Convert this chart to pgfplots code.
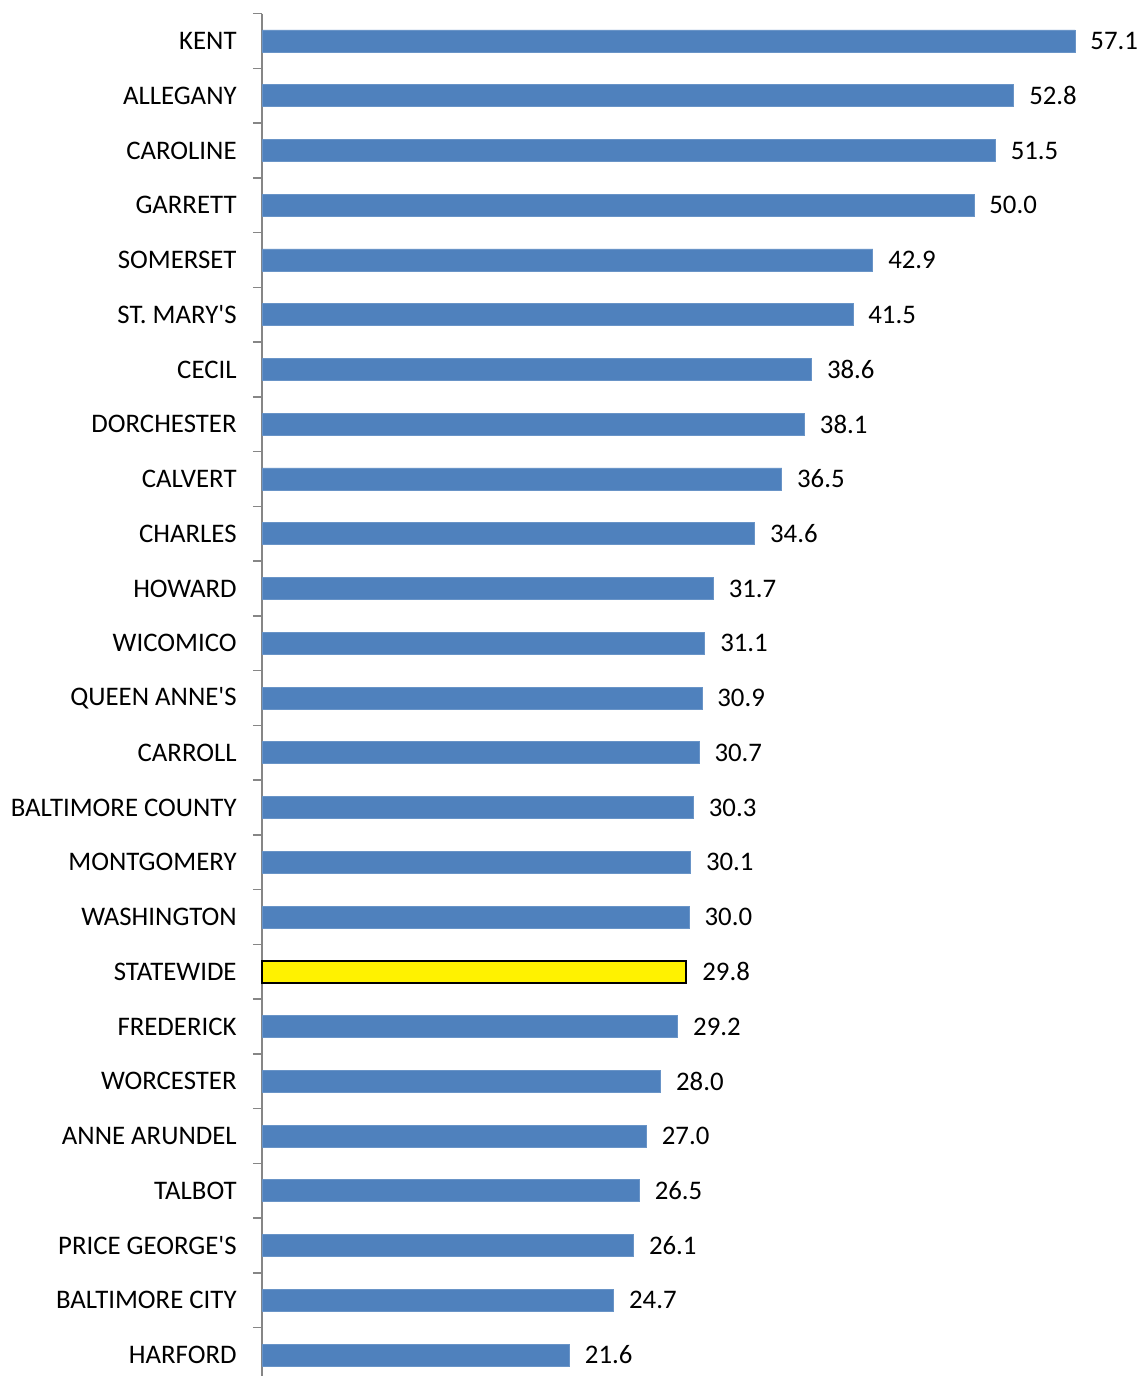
\documentclass[border=0pt]{standalone}
\usepackage{pgfplots}
\pgfplotsset{compat=1.18}
\usepackage{fontspec}
\setmainfont{Carlito}[Ligatures=TeXOff]
\definecolor{barblue}{HTML}{4F81BD}
\definecolor{axgray}{HTML}{868686}
\begin{document}
\begin{tikzpicture}
\useasboundingbox (-131pt,3.2pt) rectangle (439pt,691.2pt);
\begin{axis}[
  at={(0,0)}, anchor=south west,
  scale only axis,
  width=427.2pt, height=684.4pt,
  xmin=0, xmax=60,
  ymin=-0.5, ymax=24.5,
  y dir=reverse,
  axis x line=none,
  axis y line*=left,
  y axis line style={draw=axgray, line width=0.8pt},
  xbar, bar width=11pt, bar shift=0pt,
  ytick={0,...,24},
  yticklabels={KENT,ALLEGANY,CAROLINE,GARRETT,SOMERSET,{ST. MARY'S},CECIL,DORCHESTER,CALVERT,CHARLES,HOWARD,WICOMICO,{QUEEN ANNE'S},CARROLL,BALTIMORE COUNTY,MONTGOMERY,WASHINGTON,STATEWIDE,FREDERICK,WORCESTER,ANNE ARUNDEL,TALBOT,{PRICE GEORGE'S},BALTIMORE CITY,HARFORD},
  minor ytick={-0.5,0.5,...,24.5},
  major tick length=0pt,
  minor tick length=4.5pt,
  tick align=outside,
  minor tick style={draw=axgray, line width=0.8pt},
  yticklabel style={font=\fontsize{13.4}{15}\selectfont, inner sep=0pt, xshift=-12.5pt, anchor=east},
  nodes near coords,
  nodes near coords style={font=\fontsize{13.4}{15}\selectfont, anchor=west, inner sep=0pt, xshift=7.5pt, text=black},
  /pgf/number format/.cd, fixed, fixed zerofill, precision=1, assume math mode=true,
  /pgfplots/.cd,
  clip=false,
]
\addplot[fill=barblue, draw=barblue!85!white, line width=0.4pt] coordinates {
(57.1,0) (52.8,1) (51.5,2) (50.0,3) (42.9,4) (41.5,5) (38.6,6) (38.1,7) (36.5,8) (34.6,9)
(31.7,10) (31.1,11) (30.9,12) (30.7,13) (30.3,14) (30.1,15) (30.0,16)
(29.2,18) (28.0,19) (27.0,20) (26.5,21) (26.1,22) (24.7,23) (21.6,24)
};
\addplot[fill=yellow, draw=black, line width=1pt] coordinates {(29.8,17)};
\end{axis}
\end{tikzpicture}
\end{document}
